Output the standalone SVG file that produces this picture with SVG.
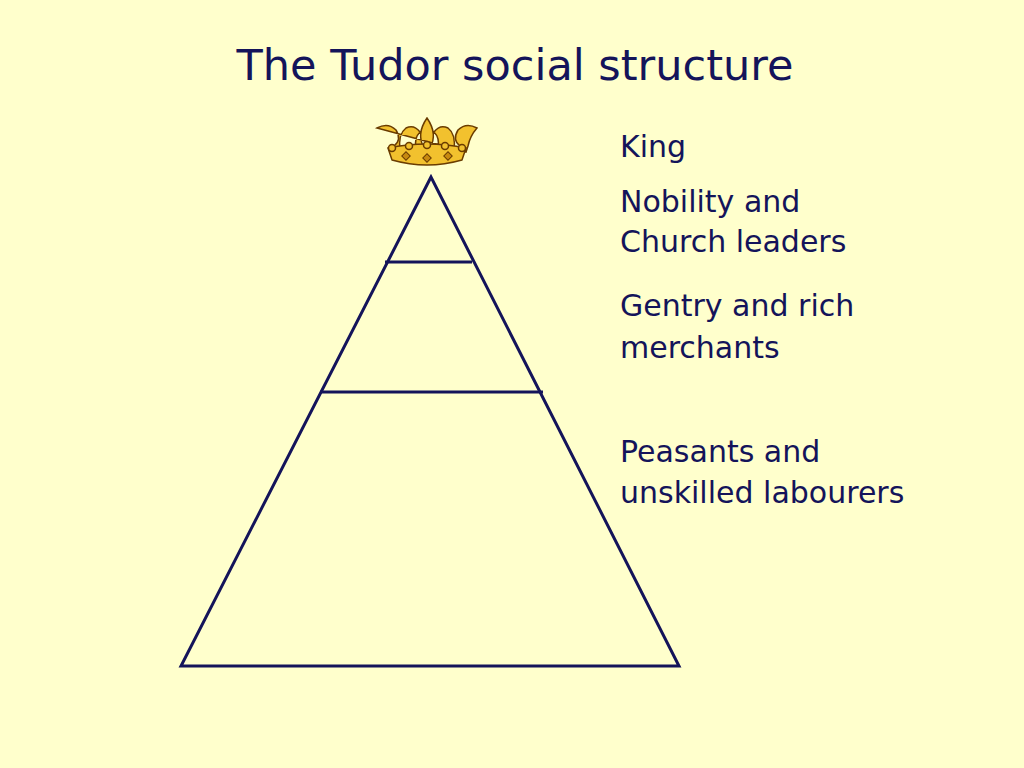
<svg xmlns="http://www.w3.org/2000/svg" width="1024" height="768" viewBox="0 0 1024 768">
<style>
text{font-family:"DejaVu Sans",sans-serif;fill:#14145a}
.l{font-size:30px}
.ln{stroke:#14145a;stroke-width:3;fill:none}
.cr{fill:#f2c12e;stroke:#6a3c00;stroke-width:1.5}
.gem{fill:#c88a10;stroke:#6a3c00;stroke-width:1}
</style>
<rect width="1024" height="768" fill="#ffffcc"/>
<text x="515" y="80" font-size="43" text-anchor="middle">The Tudor social structure</text>
<g id="crown">
<path class="cr" d="M377,128 Q388,122 396,130 Q402,140 394,146 L390,150 L400,150 Q398,134 406,128 Q414,124 420,132 Q414,138 416,148 L424,148 Q416,134 427,118 Q438,134 430,148 L438,148 Q440,138 434,132 Q440,124 448,128 Q456,134 454,150 L464,150 L460,146 Q452,140 458,130 Q466,122 477,128 Q470,136 468,146 L466,152 Z"/>
<path class="cr" d="M388,148 Q427,140 466,148 L462,160 Q427,170 392,160 Z"/>
<circle class="cr" cx="392" cy="148" r="3.5"/><circle class="cr" cx="409" cy="146" r="3.5"/><circle class="cr" cx="427" cy="145" r="3.5"/><circle class="cr" cx="445" cy="146" r="3.5"/><circle class="cr" cx="462" cy="148" r="3.5"/>
<rect class="gem" x="403" y="153" width="6" height="6" transform="rotate(45 406 156)"/>
<rect class="gem" x="424" y="155" width="6" height="6" transform="rotate(45 427 158)"/>
<rect class="gem" x="445" y="153" width="6" height="6" transform="rotate(45 448 156)"/>
</g>
<g id="pyramid">
<path class="ln" d="M431,177 L181,666 L679,666 Z"/>
<line class="ln" x1="385" y1="262" x2="472" y2="262"/>
<line class="ln" x1="320" y1="392" x2="543" y2="392"/>
</g>
<g id="labels">
<text class="l" x="620" y="157">King</text>
<text class="l" x="620" y="212">Nobility and</text>
<text class="l" x="620" y="252">Church leaders</text>
<text class="l" x="620" y="316">Gentry and rich</text>
<text class="l" x="620" y="358">merchants</text>
<text class="l" x="620" y="462">Peasants and</text>
<text class="l" x="620" y="503">unskilled labourers</text>
</g>
<g id="connectors"/>
</svg>
